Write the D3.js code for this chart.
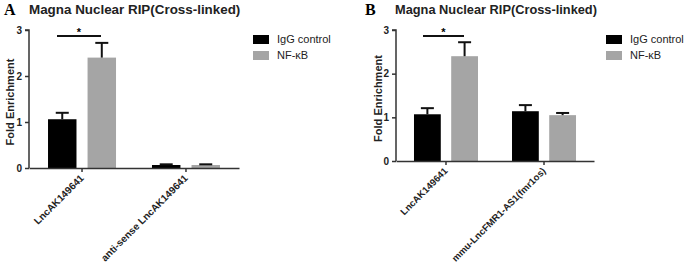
<!DOCTYPE html>
<html lang="en">
<head>
<meta charset="UTF-8">
<title>Magna Nuclear RIP</title>
<style>
  body { margin: 0; background: #fff; }
  text { font-family: "Liberation Sans", Arial, sans-serif; }
</style>
</head>
<body>
<svg width="685" height="267" id="svg"></svg>
<script src="https://d3js.org/d3.v7.min.js"></script>
<script>
  const series = ["IgG control", "NF-κB"]
  const colors = ["#000000", "#a5a5a5"]
  const yTicks = [0, 1, 2, 3]

  const categoriesA = ["LncAK149641", "anti-sense LncAK149641"]
  const meansA = [[1.06, 2.40], [0.065, 0.065]]
  const errA = [[1.20, 2.72], [0.08, 0.08]]

  const categoriesB = ["LncAK149641", "mmu-LncFMR1-AS1(fmr1os)"]
  const meansB = [[1.07, 2.40], [1.14, 1.05]]
  const errB = [[1.21, 2.72], [1.28, 1.10]]

  const svg = d3.select("svg#svg")

  function panel(o) {
    const g = svg.append("g")
    const y = d3.scaleLinear().domain([0, 3]).range([o.y0, o.y3])
    const x = d3.scaleBand().domain(o.cats).range([o.ax0, o.ax1]).paddingInner(0.2).paddingOuter(0.11)
    const half = o.groupHalf
    const x1 = d3.scaleBand().domain(series).range([-half, half]).paddingInner(0.28)

    // bars with upper error bars
    o.cats.forEach((c, i) => {
      const cx = x(c) + x.bandwidth() / 2
      series.forEach((s, j) => {
        const bx = cx + x1(s)
        const bw = x1.bandwidth()
        g.append("rect")
          .attr("x", bx).attr("width", bw)
          .attr("y", y(o.means[i][j])).attr("height", y(0) - y(o.means[i][j]))
          .attr("fill", colors[j])
        const mx = bx + bw / 2
        g.append("line").attr("x1", mx).attr("x2", mx)
          .attr("y1", y(o.means[i][j])).attr("y2", y(o.err[i][j]))
          .attr("stroke", "#111").attr("stroke-width", 2)
        g.append("line").attr("x1", mx - 6.5).attr("x2", mx + 6.5)
          .attr("y1", y(o.err[i][j])).attr("y2", y(o.err[i][j]))
          .attr("stroke", "#111").attr("stroke-width", 2)
      })
    })

    // axes
    const yAxis = d3.axisLeft(y).tickValues(yTicks).tickSize(4).tickPadding(3).tickFormat(d3.format("d"))
    const gy = g.append("g").attr("transform", `translate(${o.ax0},0)`).call(yAxis)
    gy.select(".domain").attr("stroke", "#333").attr("stroke-width", 1.5).attr("d", `M-4,${o.y3}H0V${o.y0}`)
    gy.selectAll(".tick line").attr("stroke", "#333").attr("stroke-width", 1.5)
    gy.selectAll("text").attr("font-size", 10).attr("font-weight", "bold").attr("fill", "#222")
      .style("font-family", "'Liberation Sans', Arial, sans-serif")

    const xAxis = d3.axisBottom(x).tickSize(4).tickSizeOuter(0).tickPadding(2)
    const gx = g.append("g").attr("transform", `translate(0,${o.y0})`).call(xAxis)
    gx.select(".domain").attr("stroke", "#333").attr("stroke-width", 1.5)
    gx.selectAll(".tick line").attr("stroke", "#333").attr("stroke-width", 1.5)
    gx.selectAll("text")
      .attr("font-size", o.xfs).attr("font-weight", "bold").attr("fill", "#222")
      .style("font-family", "'Liberation Sans', Arial, sans-serif")
      .attr("text-anchor", "end").attr("dy", "0.35em")
      .attr("transform", "translate(0,4) rotate(-45)")
      .attr("x", -3).attr("y", 3)

    // y label
    g.append("text")
      .attr("transform", `translate(${o.ylabX},${(o.y0 + o.y3) / 2 + 3}) rotate(-90)`)
      .attr("text-anchor", "middle").attr("font-size", 11).attr("font-weight", "bold").attr("fill", "#222")
      .text("Fold Enrichment")

    // title and panel letter
    g.append("text").attr("x", o.titleX).attr("y", 14).attr("font-size", o.titleFs)
      .attr("font-weight", "bold").attr("fill", "#222").text("Magna Nuclear RIP(Cross-linked)")
    g.append("text").attr("x", o.letterX).attr("y", 15).attr("font-size", 16)
      .attr("font-weight", "bold").style("font-family", "'Liberation Serif', 'Times New Roman', serif")
      .text(o.letter)

    // significance bar
    g.append("line").attr("x1", o.sig[0]).attr("x2", o.sig[1]).attr("y1", 36).attr("y2", 36)
      .attr("stroke", "#111").attr("stroke-width", 2)
    g.append("text").attr("x", (o.sig[0] + o.sig[1]) / 2).attr("y", 36).attr("text-anchor", "middle")
      .attr("font-size", 11).attr("font-weight", "bold").text("*")

    // legend
    series.forEach((s, j) => {
      g.append("rect").attr("x", o.legX).attr("y", 35 + j * 16).attr("width", 16).attr("height", 9)
        .attr("fill", colors[j])
      g.append("text").attr("x", o.legX + 24).attr("y", 43 + j * 16).attr("font-size", 11)
        .attr("fill", "#222").text(s)
    })
  }

  panel({
    cats: categoriesA, means: meansA, err: errA,
    ax0: 29, ax1: 239, y0: 168, y3: 30, groupHalf: 34, xfs: 10,
    ylabX: 14, titleX: 29, titleFs: 13.4, letterX: 4, letter: "A",
    sig: [57, 101], legX: 253
  })
  panel({
    cats: categoriesB, means: meansB, err: errB,
    ax0: 396, ax1: 594, y0: 161, y3: 30, groupHalf: 32, xfs: 9.5,
    ylabX: 382, titleX: 395, titleFs: 12.8, letterX: 365, letter: "B",
    sig: [423, 464], legX: 606
  })
</script>
</body>
</html>
